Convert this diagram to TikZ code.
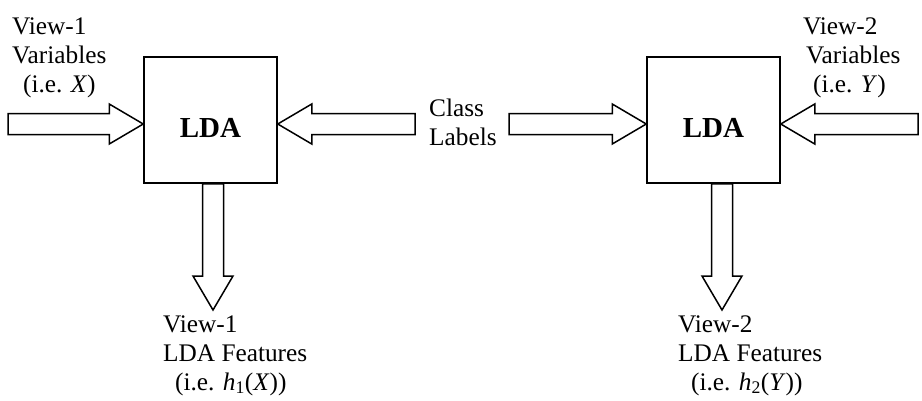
\documentclass[tikz,border=0pt]{standalone}
\usepackage{fontspec}
\setmainfont{Liberation Serif}
\usetikzlibrary{calc}

\tikzset{
    ldabox/.style={draw, line width=1.5pt, minimum width=133pt, minimum height=126pt,
        inner sep=0pt, font=\fontsize{29}{34}\selectfont\bfseries,
        text height=34pt, text depth=0pt},
    lbl/.style={align=left, inner sep=0pt, anchor=base west,
        font=\fontsize{25.3}{29}\selectfont},
    fat/.style={draw, line width=1.5pt, line join=miter}
}

% hollow block arrow from #1 to #2
\newcommand{\fatarrow}[2]{%
    \path[fat] let \p1=($(#2)-(#1)$), \n1={veclen(\x1,\y1)}, \n2={atan2(\y1,\x1)} in
        [shift={(#1)}, rotate=\n2]
        (0pt,-10.5pt) -- (\n1-34pt,-10.5pt) -- (\n1-34pt,-20pt) -- (\n1,0pt)
        -- (\n1-34pt,20pt) -- (\n1-34pt,10.5pt) -- (0pt,10.5pt) -- cycle;}

\begin{document}
\begin{tikzpicture}[x=1pt, y=-1pt]
            \useasboundingbox (0,0) rectangle (922,400);

            \node[ldabox] (lda1) at (210.5,120) {LDA};
            \node[ldabox] (lda2) at (713.5,120) {LDA};

            % base anchor sits on the last line
            \node[lbl] (view1) at (12,92) {View-1\\Variables\\\hspace*{11pt}(i.e. \textit{X})};
            \node[lbl] (view2) at (803,92) {View-2\\\hspace*{3pt}Variables\\\hspace*{10pt}(i.e. \textit{Y})};
            \node[lbl] (class) at (429,145) {Class\\Labels};
            \node[lbl] (feat1) at (163,390) {View-1\\LDA Features\\\hspace*{12pt}(i.e. \textit{h}\textsubscript{1}(\textit{X}))};
            \node[lbl] (feat2) at (678,390) {View-2\\LDA Features\\\hspace*{13pt}(i.e. \textit{h}\textsubscript{2}(\textit{Y}))};

            \coordinate (xin) at (8,124);
            \coordinate (yin) at (918,124);
            \coordinate (cin1) at (415,124);
            \coordinate (cin2) at (509,124);
            \coordinate (hout1) at (213,310);
            \coordinate (hout2) at (722,310);

            \fatarrow{xin}{lda1.west |- xin}
            \fatarrow{cin1}{lda1.east |- cin1}
            \fatarrow{cin2}{lda2.west |- cin2}
            \fatarrow{yin}{lda2.east |- yin}
            \fatarrow{hout1 |- lda1.south}{hout1}
            \fatarrow{hout2 |- lda2.south}{hout2}

        \end{tikzpicture}
\end{document}
